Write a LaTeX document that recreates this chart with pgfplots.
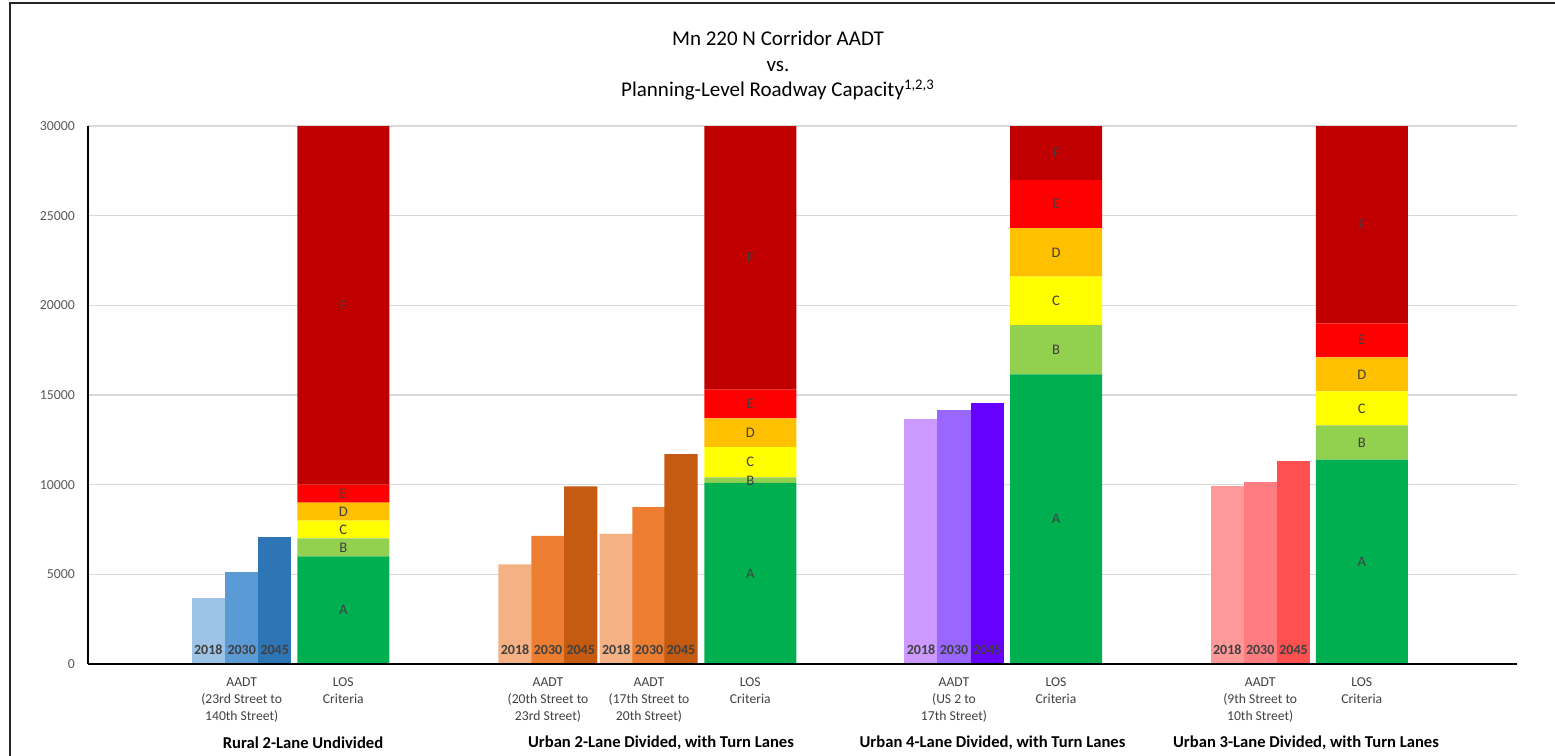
\documentclass[border=0pt]{standalone}
\usepackage{fontspec}
\setmainfont{Carlito}
\usepackage{pgfplots}
\pgfplotsset{compat=1.18}
\definecolor{bA}{HTML}{9DC3E6}\definecolor{bB}{HTML}{5B9BD5}\definecolor{bC}{HTML}{2E75B6}
\definecolor{oA}{HTML}{F4B183}\definecolor{oB}{HTML}{ED7D31}\definecolor{oC}{HTML}{C55A11}
\definecolor{pA}{HTML}{CC99FF}\definecolor{pB}{HTML}{9966FF}\definecolor{pC}{HTML}{6600FF}
\definecolor{rA}{HTML}{FF9999}\definecolor{rB}{HTML}{FF7C80}\definecolor{rC}{HTML}{FF5050}
\definecolor{losA}{HTML}{00B050}\definecolor{losB}{HTML}{92D050}\definecolor{losC}{HTML}{FFFF00}
\definecolor{losD}{HTML}{FFC000}\definecolor{losE}{HTML}{FF0000}\definecolor{losF}{HTML}{C00000}
\definecolor{txtgray}{HTML}{404040}
\definecolor{tickgray}{HTML}{595959}
\definecolor{gridgray}{HTML}{D9D9D9}
\pgfplotsset{
  common/.style={at={(44pt,46pt)}, anchor=south west, scale only axis,
    width=714.5pt, height=269pt, xmin=88, xmax=1517, ymin=0, ymax=30000},
}
\begin{document}
\begin{tikzpicture}
\path[use as bounding box] (0,0) rectangle (777.5pt,378pt);
\draw[line width=1pt, color=black!85] (5pt,0) -- (5pt,376.3pt) -- (777.5pt,376.3pt);
\node[align=center, font=\fontsize{10.5}{12.75}\selectfont] at (389pt,345pt)
  {Mn 220 N Corridor AADT\\vs.\\Planning-Level Roadway Capacity\textsuperscript{1,2,3}};
% axis 1: grid, ticks, LOS stacks
\begin{axis}[common,
  ybar stacked, bar width=92,
  axis x line*=bottom, axis y line*=left,
  axis line style={black, line width=0.75pt, -},
  ymajorgrids, grid style={gridgray, line width=0.7pt},
  ytick={0,5000,...,30000}, major tick length=0pt,
  scaled y ticks=false,
  /pgf/number format/assume math mode=true,
  /pgf/number format/1000 sep={},
  yticklabel style={font=\fontsize{6.9}{8}\selectfont, text=tickgray, xshift=-3pt},
  xtick={241.7,343.3,548,649,750.3,954,1056,1260.2,1361.8},
  xticklabels={{AADT\\(23rd Street to\\140th Street)},{LOS\\Criteria},
    {AADT\\(20th Street to\\23rd Street)},{AADT\\(17th Street to\\20th Street)},{LOS\\Criteria},
    {AADT\\(US 2 to\\17th Street)},{LOS\\Criteria},
    {AADT\\(9th Street to\\10th Street)},{LOS\\Criteria}},
  xticklabel style={align=center, font=\fontsize{6.8}{8.5}\selectfont, text=txtgray, yshift=-3.5pt},
]
\addplot[fill=losA, draw=none] coordinates {(343.3,6000) (750.3,10100) (1056,16150) (1361.8,11400)};
\addplot[fill=losB, draw=none] coordinates {(343.3,1000) (750.3,300) (1056,2750) (1361.8,1900)};
\addplot[fill=losC, draw=none] coordinates {(343.3,1000) (750.3,1700) (1056,2700) (1361.8,1900)};
\addplot[fill=losD, draw=none] coordinates {(343.3,1000) (750.3,1600) (1056,2700) (1361.8,1900)};
\addplot[fill=losE, draw=none] coordinates {(343.3,1000) (750.3,1600) (1056,2700) (1361.8,1900)};
\addplot[fill=losF, draw=none] coordinates {(343.3,20000) (750.3,14700) (1056,3000) (1361.8,11000)};
\end{axis}
% axis 2: AADT bars and labels
\begin{axis}[common, hide axis, clip=false]
\addplot[ybar, bar shift=0pt, bar width=33.4, fill=bA, draw=none] coordinates {(208.3,3700)};
\addplot[ybar, bar shift=0pt, bar width=33.4, fill=bB, draw=none] coordinates {(241.7,5150)};
\addplot[ybar, bar shift=0pt, bar width=33.4, fill=bC, draw=none] coordinates {(274.7,7100)};
\addplot[ybar, bar shift=0pt, bar width=33.4, fill=oA, draw=none] coordinates {(515,5550) (616.3,7250)};
\addplot[ybar, bar shift=0pt, bar width=33.4, fill=oB, draw=none] coordinates {(548,7150) (649,8750)};
\addplot[ybar, bar shift=0pt, bar width=33.4, fill=oC, draw=none] coordinates {(580.7,9900) (681,11700)};
\addplot[ybar, bar shift=0pt, bar width=33.4, fill=pA, draw=none] coordinates {(921,13650)};
\addplot[ybar, bar shift=0pt, bar width=33.4, fill=pB, draw=none] coordinates {(954,14150)};
\addplot[ybar, bar shift=0pt, bar width=33.4, fill=pC, draw=none] coordinates {(987.3,14550)};
\addplot[ybar, bar shift=0pt, bar width=33.4, fill=rA, draw=none] coordinates {(1227.3,9900)};
\addplot[ybar, bar shift=0pt, bar width=33.4, fill=rB, draw=none] coordinates {(1260.2,10150)};
\addplot[ybar, bar shift=0pt, bar width=33.4, fill=rC, draw=none] coordinates {(1293.5,11300)};
% year labels
\addplot[draw=none, mark=none, nodes near coords, point meta=explicit symbolic,
  nodes near coords style={anchor=center, font=\fontsize{7}{8}\selectfont\bfseries, text=txtgray}]
  table[meta=lab] {
x y lab
208.3 800 2018
241.7 800 2030
274.7 800 2045
515 800 2018
548 800 2030
580.7 800 2045
616.3 800 2018
649 800 2030
681 800 2045
921 800 2018
954 800 2030
987.3 800 2045
1227.3 800 2018
1260.2 800 2030
1293.5 800 2045
};
% LOS letters
\addplot[draw=none, mark=none, nodes near coords, point meta=explicit symbolic,
  nodes near coords style={anchor=center, font=\fontsize{7.3}{8}\selectfont, text=txtgray}]
  table[meta=lab] {
x y lab
343.3 3000 A
343.3 6500 B
343.3 7500 C
343.3 8500 D
343.3 9500 E
343.3 20000 F
750.3 5050 A
750.3 10200 B
750.3 11250 C
750.3 12900 D
750.3 14500 E
750.3 22650 F
1056 8075 A
1056 17525 B
1056 20250 C
1056 22950 D
1056 25650 E
1056 28500 F
1361.8 5700 A
1361.8 12350 B
1361.8 14250 C
1361.8 16150 D
1361.8 18050 E
1361.8 24500 F
};
\draw[black, line width=0.75pt] (rel axis cs:0,0) -- (rel axis cs:1,0);
\node[font=\fontsize{8.3}{9}\selectfont\bfseries] at (axis cs:303,0) [yshift=-39.5pt] {Rural 2-Lane Undivided};
\node[font=\fontsize{8.3}{9}\selectfont\bfseries] at (axis cs:661,0) [yshift=-39.5pt] {Urban 2-Lane Divided, with Turn Lanes};
\node[font=\fontsize{8.3}{9}\selectfont\bfseries] at (axis cs:992.5,0) [yshift=-39.5pt] {Urban 4-Lane Divided, with Turn Lanes};
\node[font=\fontsize{8.3}{9}\selectfont\bfseries] at (axis cs:1306,0) [yshift=-39.5pt] {Urban 3-Lane Divided, with Turn Lanes};
\end{axis}
\end{tikzpicture}
\end{document}
